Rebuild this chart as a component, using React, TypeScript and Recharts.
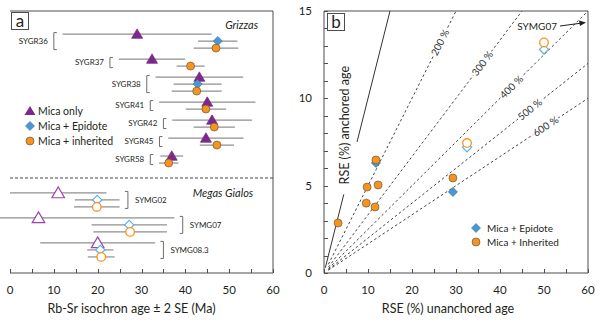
import React from "react";
import {
  ScatterChart,
  Scatter,
  XAxis,
  YAxis,
  ErrorBar,
  ReferenceLine,
  Legend
} from "recharts";

// ---- panel a: Rb-Sr isochron ages (Ma) with 2 SE ----
const samples = ["SYGR36", "SYGR37", "SYGR38", "SYGR41", "SYGR42", "SYGR45", "SYGR58", "SYMG02", "SYMG07", "SYMG08.3"];
const sites = ["Grizzas", "Grizzas", "Grizzas", "Grizzas", "Grizzas", "Grizzas", "Grizzas", "Megas Gialos", "Megas Gialos", "Megas Gialos"];
const micaOnlyAge = [29, 32.4, 43.2, 45, 46.1, 44.7, 36.9, 11, 6.5, 20];
const micaOnlyErr = [17, 7.6, 10, 11, 9.1, 8.6, 2.6, 11, 31, 13.1];
const epidoteAge = [47.4, null, 42.8, null, null, null, null, 19.9, 27.2, 20.6];
const epidoteErr = [4.5, null, 5.5, null, null, null, null, 5.1, 8.6, 3];
const inheritedAge = [47, 41.2, 42.6, 44.7, 46.6, 47.2, 36.2, 19.8, 27.4, 20.8];
const inheritedErr = [5.1, 3.2, 5.7, 4.6, 4.7, 3.9, 2.2, 5.2, 8.4, 3.05];
const ageTicks = [0, 5, 10, 15, 20, 25, 30, 35, 40, 45, 50, 55, 60];
const seriesNamesA = ["Mica only", "Mica + Epidote", "Mica + inherited"];

// ---- panel b: relative standard error (%) ----
const epidoteRseUnanchored = [11.8, 29.3, 32.5, 50];
const epidoteRseAnchored = [6.3, 4.64, 7.2, 12.8];
const epidoteMegasGialos = [false, false, true, true];
const inheritedRseUnanchored = [11.8, 9.8, 12.3, 9.6, 11.6, 3.2, 29.3, 32.5, 50];
const inheritedRseAnchored = [6.47, 4.92, 5.04, 4.0, 3.78, 2.86, 5.44, 7.44, 13.2];
const inheritedMegasGialos = [false, false, false, false, false, false, false, true, true];
const ratioPercents = [200, 300, 400, 500, 600];
const rseXTicks = [0, 5, 10, 15, 20, 25, 30, 35, 40, 45, 50, 55, 60];
const rseYTicks = [0, 1, 2, 3, 4, 5, 6, 7, 8, 9, 10, 11, 12, 13, 14, 15];
const seriesNamesB = ["Mica + Epidote", "Mica + Inherited"];

const FONT = "Lato, 'Open Sans', sans-serif";
const INK = "#231f20";
const FRAME = "#4d4d4d";
const PURPLE = "#7b2a8c";
const PURPLE_OPEN = "#9a45ab";
const BLUE = "#4a98d3";
const BLUE_OPEN = "#5cb0e8";
const ORANGE = "#f7941d";
const BAR = "#8f8f8f";

// row layout for panel a: one slot per marker, 7px per slot
const SLOT_PX = 7;
const A_PLOT_H = 262;
const A_Y_MAX = A_PLOT_H / SLOT_PX;

type Row = { name: string; site: string; open: boolean; tri: number; dia: number | null; circ: number };

function buildRows(): Row[] {
  const out: Row[] = [];
  let pos = 3.3;
  samples.forEach((name, i) => {
    if (i > 0 && sites[i] !== sites[i - 1]) pos += 2.7;
    const tri = pos;
    const dia = epidoteAge[i] == null ? null : tri + 1;
    const circ = (dia ?? tri) + 1;
    out.push({ name, site: sites[i], open: sites[i] !== "Grizzas", tri, dia, circ });
    pos = circ + 1.57;
  });
  return out;
}

const rows = buildRows();
const breakIdx = sites.findIndex((s, i) => i > 0 && s !== sites[i - 1]);
const siteBreak = (rows[breakIdx - 1].circ + rows[breakIdx].tri) / 2;

const micaOnlyData = rows.map((r, i) => ({ x: micaOnlyAge[i], y: r.tri, err: micaOnlyErr[i], open: r.open }));
const epidoteData = rows
  .map((r, i) => ({ x: epidoteAge[i], y: r.dia, err: epidoteErr[i], open: r.open }))
  .filter((d) => d.x != null);
const inheritedData = rows.map((r, i) => ({ x: inheritedAge[i], y: r.circ, err: inheritedErr[i], open: r.open }));

const bracketData = rows.map((r, i) => {
  const lows = [micaOnlyAge[i] - micaOnlyErr[i], inheritedAge[i] - inheritedErr[i]];
  const highs = [micaOnlyAge[i] + micaOnlyErr[i], inheritedAge[i] + inheritedErr[i]];
  if (epidoteAge[i] != null) {
    lows.push((epidoteAge[i] as number) - (epidoteErr[i] as number));
    highs.push((epidoteAge[i] as number) + (epidoteErr[i] as number));
  }
  const left = r.site === "Grizzas";
  return {
    x: left ? Math.min(...lows) - 2 : Math.max(...highs) + 1.9,
    y: (r.tri + r.circ) / 2,
    span: r.circ - r.tri,
    name: r.name,
    left
  };
});

const siteLabels = [
  { x: 56.6, y: 2.0, text: "Grizzas" },
  { x: 55.5, y: rows[breakIdx].tri, text: "Megas Gialos" }
];

// panel b geometry
const B_PLOT_W = 264;
const B_PLOT_H = 262;
const PX_X = B_PLOT_W / 60;
const PX_Y = B_PLOT_H / 15;

const epidotePoints = epidoteRseUnanchored.map((x, i) => ({ x, y: epidoteRseAnchored[i], open: epidoteMegasGialos[i] }));
const inheritedPoints = inheritedRseUnanchored.map((x, i) => ({ x, y: inheritedRseAnchored[i], open: inheritedMegasGialos[i] }));

const ratioLabelPos = [0.88, 0.8, 0.71, 0.78, 0.84];
const ratioLines = ratioPercents.map((r, i) => {
  const xEnd = Math.min(60, (15 * r) / 100);
  const lx = xEnd * ratioLabelPos[i];
  return {
    r,
    xEnd,
    yEnd: (xEnd * 100) / r,
    label: { x: lx, y: (lx * 100) / r, text: `${r} %`, angle: (Math.atan(((100 / r) * PX_Y) / PX_X) * 180) / Math.PI }
  };
});

const fmt10 = (v: number) => (v % 10 === 0 ? String(v) : "");
const fmt5 = (v: number) => (v % 5 === 0 ? String(v) : "");
const TICK_LEN = 4;
const BOTTOM_GAP = 13;
const LEFT_GAP = 12;
const px = (v: number) => Math.round(v) + 0.5;

// inward tick marks drawn together with the label
const bottomTick = (fmt: (v: number) => string) => (p: any) => {
  const { x, y, payload } = p;
  const y0 = y - BOTTOM_GAP;
  return (
    <g>
      <line x1={px(x)} x2={px(x)} y1={y0} y2={y0 - TICK_LEN} stroke={FRAME} strokeWidth={1} />
      <text x={x} y={y} dy="0.71em" textAnchor="middle" fontSize={11.5} fontFamily={FONT} fill={INK}>
        {fmt(payload.value)}
      </text>
    </g>
  );
};

const topTick = (p: any) => (
  <line x1={px(p.x)} x2={px(p.x)} y1={p.y} y2={p.y + TICK_LEN} stroke={FRAME} strokeWidth={1} />
);

const leftTick = (p: any) => {
  const { x, y, payload } = p;
  const x0 = x + LEFT_GAP;
  return (
    <g>
      <line x1={x0} x2={x0 + TICK_LEN} y1={px(y)} y2={px(y)} stroke={FRAME} strokeWidth={1} />
      <text x={x} y={y} dy="0.35em" textAnchor="end" fontSize={11.5} fontFamily={FONT} fill={INK}>
        {fmt5(payload.value)}
      </text>
    </g>
  );
};

const rightTick = (p: any) => (
  <line x1={p.x} x2={p.x - TICK_LEN} y1={px(p.y)} y2={px(p.y)} stroke={FRAME} strokeWidth={1} />
);

const Triangle = (p: any) => {
  const { cx, cy, payload } = p;
  const s = payload.open ? 6 : 5.2;
  return (
    <polygon
      points={`${cx},${cy - s} ${cx + s * 1.05},${cy + s * 0.8} ${cx - s * 1.05},${cy + s * 0.8}`}
      fill={payload.open ? "#fff" : PURPLE}
      stroke={payload.open ? PURPLE_OPEN : PURPLE}
      strokeWidth={payload.open ? 1.2 : 0.8}
    />
  );
};

const Diamond = (p: any) => {
  const { cx, cy, payload } = p;
  const s = 4.6;
  return (
    <polygon
      points={`${cx},${cy - s} ${cx + s},${cy} ${cx},${cy + s} ${cx - s},${cy}`}
      fill={payload.open ? "#fff" : BLUE}
      stroke={payload.open ? BLUE_OPEN : "#3a6f98"}
      strokeWidth={payload.open ? 1.2 : 0.6}
    />
  );
};

const Dot = (p: any) => {
  const { cx, cy, payload } = p;
  return (
    <circle
      cx={cx}
      cy={cy}
      r={payload.open ? 4.3 : 4}
      fill={payload.open ? "#fff" : ORANGE}
      stroke={payload.open ? ORANGE : "#5a4a3a"}
      strokeWidth={payload.open ? 1.3 : 0.6}
    />
  );
};

const Bracket = (p: any) => {
  const { cx, cy, payload } = p;
  const h = (payload.span * SLOT_PX) / 2 + 1.5;
  const t = payload.left ? 3 : -3;
  return (
    <g>
      <path d={`M${cx + t},${cy - h}H${cx}V${cy + h}H${cx + t}`} fill="none" stroke="#6d6d6d" strokeWidth={1} />
      <text
        x={payload.left ? cx - 6 : cx + 7}
        y={cy}
        dy="0.35em"
        textAnchor={payload.left ? "end" : "start"}
        fontSize={8}
        fontFamily={FONT}
        fill={INK}
      >
        {payload.name}
      </text>
    </g>
  );
};

const SiteLabel = (p: any) => (
  <text x={p.cx} y={p.cy} dy="0.35em" textAnchor="end" fontSize={11} fontStyle="italic" fontFamily={FONT} fill={INK}>
    {p.payload.text}
  </text>
);

const RatioLabel = (p: any) => {
  const { cx, cy, payload } = p;
  return (
    <g transform={`translate(${cx},${cy}) rotate(${-payload.angle})`}>
      <rect x={-15} y={-5} width={30} height={10} fill="#fff" />
      <text textAnchor="middle" dy="0.35em" fontSize={10} fontFamily={FONT} fill="#333">
        {payload.text}
      </text>
    </g>
  );
};

const Symg07Note = (p: any) => {
  const { cx, cy } = p;
  return (
    <g>
      <text x={cx - 31} y={cy + 19} textAnchor="end" fontSize={10} fontFamily={FONT} fill={INK}>
        SYMG07
      </text>
      <line x1={cx - 28} y1={cy + 15} x2={cx - 8} y2={cy + 12.3} stroke={INK} strokeWidth={1} />
      <polygon points={`${cx - 2},${cy + 11.5} ${cx - 9},${cy + 9.5} ${cx - 8},${cy + 15}`} fill={INK} />
    </g>
  );
};

const markerIcon = (kind: number) => {
  if (kind === 0) return <polygon points="6,1 11.5,10 0.5,10" fill={PURPLE} />;
  if (kind === 1) return <polygon points="6,1.5 10.5,6 6,10.5 1.5,6" fill={BLUE} stroke="#3a6f98" strokeWidth={0.6} />;
  return <circle cx={6} cy={6} r={4} fill={ORANGE} stroke="#5a4a3a" strokeWidth={0.6} />;
};

const LegendA = () => (
  <div style={{ fontFamily: FONT, fontSize: 10.5, color: INK }}>
    {seriesNamesA.map((name, i) => (
      <div key={name} style={{ display: "flex", alignItems: "center", height: 15 }}>
        <svg width={12} height={12} style={{ marginRight: 2 }}>
          {markerIcon(i)}
        </svg>
        {name}
      </div>
    ))}
  </div>
);

const LegendB = () => (
  <div style={{ fontFamily: FONT, fontSize: 10, color: INK }}>
    {seriesNamesB.map((name, i) => (
      <div key={name} style={{ display: "flex", alignItems: "center", height: 14 }}>
        <svg width={12} height={12} style={{ marginRight: 5 }}>
          {markerIcon(i + 1)}
        </svg>
        {name}
      </div>
    ))}
  </div>
);

const panelTag = (left: number, top: number, text: string) => (
  <div
    style={{
      position: "absolute",
      left,
      top,
      width: 16,
      height: 16,
      border: `1px solid ${FRAME}`,
      fontFamily: FONT,
      fontSize: 17,
      lineHeight: "15px",
      textAlign: "center",
      color: INK,
      background: "#fff"
    }}
  >
    {text}
  </div>
);

export default function App() {
  return (
    <div style={{ position: "absolute", left: 0, top: 0, width: 600, height: 324, background: "#fff" }}>
      <div style={{ position: "absolute", left: 0, top: 0 }}>
        <ScatterChart width={290} height={324} margin={{ top: 10, right: 16, bottom: 11, left: 10 }}>
          <XAxis
            dataKey="x"
            type="number"
            domain={[0, 60]}
            ticks={ageTicks}
            interval={0}
            allowDataOverflow
            height={40}
            tickSize={0}
            tickLine={false}
            tickMargin={BOTTOM_GAP}
            tick={bottomTick(fmt10)}
            stroke={FRAME}
            label={{
              content: (p: any) => {
                const vb = p.viewBox || { x: 10, y: 273, width: 263, height: 40 };
                return (
                  <text x={vb.x + vb.width / 2 - 10} y={vb.y + vb.height} textAnchor="middle" fontSize={12.5} fontFamily={FONT} fill={INK}>
                    Rb-Sr isochron age ± 2 SE (Ma)
                  </text>
                );
              }
            }}
          />
          <XAxis xAxisId="top" orientation="top" type="number" domain={[0, 60]} ticks={ageTicks} interval={0} height={1} tickSize={0} tickMargin={0} tickLine={false} tick={topTick} stroke={FRAME} />
          <YAxis dataKey="y" type="number" domain={[0, A_Y_MAX]} reversed allowDataOverflow width={0} tick={false} tickLine={false} stroke={FRAME} />
          <YAxis yAxisId="right" orientation="right" type="number" domain={[0, 1]} width={1} tick={false} tickLine={false} stroke={FRAME} />
          <ReferenceLine y={siteBreak} stroke="#444" strokeDasharray="3 2" />
          <Scatter data={micaOnlyData} shape={Triangle} isAnimationActive={false}>
            <ErrorBar dataKey="err" direction="x" width={0} stroke={BAR} strokeWidth={1.2} />
          </Scatter>
          <Scatter data={epidoteData} shape={Diamond} isAnimationActive={false}>
            <ErrorBar dataKey="err" direction="x" width={0} stroke={BAR} strokeWidth={1.2} />
          </Scatter>
          <Scatter data={inheritedData} shape={Dot} isAnimationActive={false}>
            <ErrorBar dataKey="err" direction="x" width={0} stroke={BAR} strokeWidth={1.2} />
          </Scatter>
          <Scatter data={bracketData} shape={Bracket} isAnimationActive={false} legendType="none" />
          <Scatter data={siteLabels} shape={SiteLabel} isAnimationActive={false} legendType="none" />
          <Legend
            layout="vertical"
            align="center"
            verticalAlign="middle"
            content={LegendA}
            wrapperStyle={{ left: 24, top: 103, width: 110 }}
          />
        </ScatterChart>
      </div>

      <div style={{ position: "absolute", left: 290, top: 0 }}>
        <ScatterChart width={310} height={324} margin={{ top: 10, right: 11, bottom: 11, left: 0 }}>
          <XAxis
            dataKey="x"
            type="number"
            domain={[0, 60]}
            ticks={rseXTicks}
            interval={0}
            height={40}
            tickSize={0}
            tickLine={false}
            tickMargin={BOTTOM_GAP}
            tick={bottomTick(fmt10)}
            stroke={FRAME}
            label={{
              content: (p: any) => {
                const vb = p.viewBox || { x: 34, y: 273, width: 264, height: 40 };
                return (
                  <text x={vb.x + vb.width / 2 - 8} y={vb.y + vb.height} textAnchor="middle" fontSize={12.5} fontFamily={FONT} fill={INK}>
                    RSE (%) unanchored age
                  </text>
                );
              }
            }}
          />
          <XAxis xAxisId="top" orientation="top" type="number" domain={[0, 60]} ticks={rseXTicks} interval={0} height={1} tickSize={0} tickMargin={0} tickLine={false} tick={topTick} stroke={FRAME} />
          <YAxis
            dataKey="y"
            type="number"
            domain={[0, 15]}
            ticks={rseYTicks}
            interval={0}
            width={34}
            tickSize={0}
            tickLine={false}
            tickMargin={LEFT_GAP}
            tick={leftTick}
            stroke={FRAME}
            label={{
              content: (p: any) => {
                const vb = p.viewBox || { x: 0, y: 11, width: 34, height: 262 };
                const x = vb.x + vb.width + 21;
                const y = vb.y + vb.height * 0.436;
                return (
                  <text x={x} y={y} transform={`rotate(-90 ${x} ${y})`} dy="0.35em" textAnchor="middle" fontSize={12.5} fontFamily={FONT} fill={INK}>
                    RSE (%) anchored age
                  </text>
                );
              }
            }}
          />
          <YAxis yAxisId="right" orientation="right" type="number" domain={[0, 15]} ticks={rseYTicks} interval={0} width={1} tickSize={0} tickMargin={0} tickLine={false} tick={rightTick} stroke={FRAME} />
          <ReferenceLine segment={[{ x: 0.3, y: 0.3 }, { x: 4.5, y: 4.5 }]} stroke="#333" strokeWidth={1} ifOverflow="visible" />
          <ReferenceLine segment={[{ x: 7.5, y: 7.5 }, { x: 15, y: 15 }]} stroke="#333" strokeWidth={1} ifOverflow="visible" />
          {ratioLines.map((l) => (
            <ReferenceLine
              key={l.r}
              segment={[{ x: 1, y: 100 / l.r }, { x: l.xEnd, y: l.yEnd }]}
              stroke="#444"
              strokeWidth={1}
              strokeDasharray="2.5 2.5"
              ifOverflow="visible"
            />
          ))}
          <Scatter data={ratioLines.map((l) => l.label)} shape={RatioLabel} isAnimationActive={false} legendType="none" />
          <Scatter data={epidotePoints} shape={Diamond} isAnimationActive={false} />
          <Scatter data={inheritedPoints} shape={Dot} isAnimationActive={false} />
          <Scatter data={[{ x: 60, y: 15 }]} shape={Symg07Note} isAnimationActive={false} legendType="none" />
          <Legend
            layout="vertical"
            align="center"
            verticalAlign="middle"
            content={LegendB}
            wrapperStyle={{ left: 180, top: 221, width: 110 }}
          />
        </ScatterChart>
      </div>

      {panelTag(11, 12, "a")}
      {panelTag(327, 13, "b")}
    </div>
  );
}
